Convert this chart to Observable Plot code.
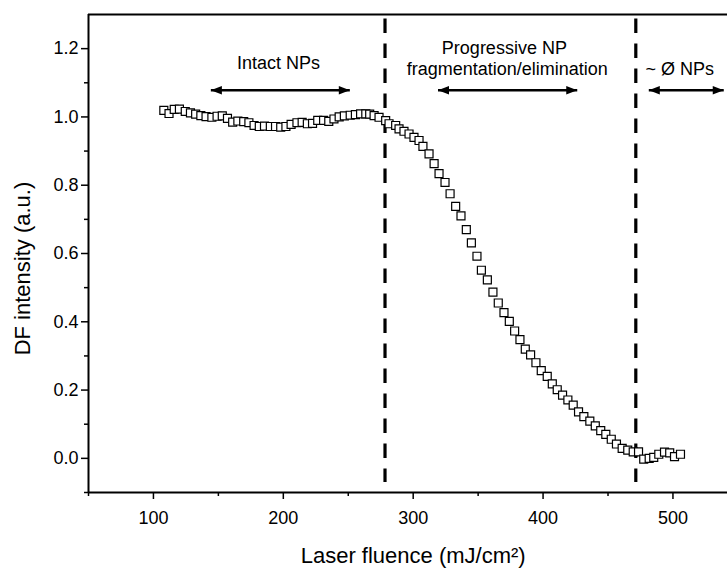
<!DOCTYPE html>
<html><head><meta charset="utf-8">
<script src="https://cdn.jsdelivr.net/npm/d3@7"></script>
<script src="https://cdn.jsdelivr.net/npm/@observablehq/plot@0.6"></script>
<style>
html,body{margin:0;padding:0;background:#fff;overflow:hidden;}
</style></head><body><div id="chart"></div>
<script>
// ---- data ----
const fluence = [108,112,116,120,124.5,128.5,132.5,136.5,140.5,145,
  149,153,157,161,165,169.5,173.5,177.5,181.5,185.5,
  190,194,198,202,206,210.5,214.5,218.5,222.5,226.5,
  231,235,239,243,247,251.5,255.5,259.5,263.5,266.5,
  269.9,273.7,278.8,281.4,286.5,289.1,292.9,296.8,300.6,304.5,
  307.5,312.2,316.1,319.9,324.5,328.4,332.7,336.8,340.9,344.8,
  349.1,352.5,357.1,361.4,365.5,369.9,374,378.1,382.2,386.3,
  390.4,394.5,398.6,403.2,407.1,410.9,415,419.1,423.2,427.3,
  431.4,436,440.2,444.4,448.3,452.5,456.5,460.9,465.2,469.4,
  473.5,477.5,481.7,485.2,489.1,493.5,497.5,501.2,505.8];
const intensity = [1.019,1.010,1.022,1.023,1.016,1.012,1.008,1.004,1.001,0.999,
  1.002,1.003,0.996,0.985,0.988,0.986,0.983,0.975,0.972,0.973,
  0.972,0.972,0.970,0.972,0.978,0.983,0.984,0.980,0.981,0.990,
  0.990,0.987,0.994,1.000,1.003,1.005,1.007,1.009,1.009,1.008,
  1.004,0.999,0.989,0.980,0.975,0.965,0.958,0.950,0.940,0.931,
  0.914,0.892,0.863,0.834,0.808,0.775,0.738,0.710,0.670,0.631,
  0.592,0.551,0.523,0.487,0.455,0.427,0.401,0.373,0.348,0.320,
  0.303,0.280,0.257,0.240,0.218,0.201,0.185,0.171,0.156,0.136,
  0.122,0.109,0.095,0.081,0.070,0.056,0.042,0.029,0.024,0.019,
  0.019,-0.002,0.000,0.003,0.012,0.018,0.016,0.005,0.012];

const xTicks = [100, 200, 300, 400, 500];
const xMinorTicks = [50, 150, 250, 350, 450];
const yTicks = [0, 0.2, 0.4, 0.6, 0.8, 1.0, 1.2];
const yMinorTicks = [-0.1, 0.1, 0.3, 0.5, 0.7, 0.9, 1.1];

const thresholds = [278.3, 471.4];

const regionLabels = ["Intact NPs", "Progressive NP", "fragmentation/elimination", "~ Ø NPs"];
const regionLabelX = [196.3, 370.2, 372.4, 505.2];
const regionLabelY = [1.140, 1.183, 1.1222, 1.124];

const arrowStart = [144.2, 319.1, 481.4];
const arrowEnd = [251.2, 426.3, 539.1];
const arrowLevel = [1.078, 1.078, 1.078];

const xTitle = "Laser fluence (mJ/cm²)";
const yTitle = "DF intensity (a.u.)";

// ---- build tables ----
const points = fluence.map((f, i) => ({f, v: intensity[i]}));
const labels = regionLabels.map((t, i) => ({t, x: regionLabelX[i], y: regionLabelY[i]}));
const arrows = arrowStart.map((s, i) => ({x1: s, x2: arrowEnd[i], y: arrowLevel[i]}));

const headRight = {draw(ctx) { ctx.moveTo(0, 0); ctx.lineTo(-11, -4.3); ctx.lineTo(-11, 4.3); ctx.closePath(); }};
const headLeft = {draw(ctx) { ctx.moveTo(0, 0); ctx.lineTo(11, -4.3); ctx.lineTo(11, 4.3); ctx.closePath(); }};

const xDom = [50, 542];
const yDom = [-0.1, 1.3];

const chart = Plot.plot({
  width: 727,
  height: 569,
  marginLeft: 88,
  marginRight: 0,
  marginTop: 14,
  marginBottom: 77,
  x: {domain: xDom},
  y: {domain: yDom},
  style: {fontFamily: "'Liberation Sans', Arial, sans-serif", background: "white", color: "black", overflow: "visible"},
  marks: [
    Plot.axisX(xMinorTicks, {tickSize: 4, tickFormat: () => "", label: null, strokeWidth: 1.5}),
    Plot.axisX(xTicks, {tickSize: 7, tickPadding: 12, fontSize: 18, tickFormat: d3.format("d"), label: null, strokeWidth: 1.5}),
    Plot.axisY(yMinorTicks, {tickSize: 4, tickFormat: () => "", label: null, strokeWidth: 1.5}),
    Plot.axisY(yTicks, {tickSize: 7, tickPadding: 3, fontSize: 18, tickFormat: d3.format(".1f"), label: null, strokeWidth: 1.5}),
    Plot.ruleX([xDom[0]], {y1: yDom[0], y2: yDom[1], strokeWidth: 2}),
    Plot.ruleY([yDom[0]], {x1: xDom[0], x2: xDom[1], strokeWidth: 2}),
    Plot.ruleY([yDom[1]], {x1: xDom[0], x2: xDom[1], strokeWidth: 2}),
    Plot.ruleX(thresholds, {y1: 1.2865, y2: -0.0708, strokeWidth: 3.2, strokeDasharray: "14.5,10.5", stroke: "black"}),
    Plot.dot(points, {x: "f", y: "v", symbol: "square", r: 4.5, fill: "white", stroke: "black", strokeWidth: 1.2}),
    Plot.link(arrows, {x1: "x1", x2: "x2", y1: "y", y2: "y", strokeWidth: 2.6, stroke: "black"}),
    Plot.dot(arrows, {x: "x2", y: "y", symbol: headRight, fill: "black", stroke: "none"}),
    Plot.dot(arrows, {x: "x1", y: "y", symbol: headLeft, fill: "black", stroke: "none"}),
    Plot.text(labels, {x: "x", y: "y", text: "t", fontSize: 18, lineAnchor: "bottom", textAnchor: "middle", fill: "black"}),
    Plot.text([xTitle], {x: () => 300, y: () => -0.2857, text: d => d, fontSize: 22, lineAnchor: "middle", textAnchor: "middle", fill: "black"}),
    Plot.text([yTitle], {x: () => -0.4, y: () => 0.556, text: d => d, fontSize: 22, rotate: -90, lineAnchor: "middle", textAnchor: "middle", fill: "black"})
  ]
});
document.getElementById("chart").appendChild(chart);
</script></body></html>
